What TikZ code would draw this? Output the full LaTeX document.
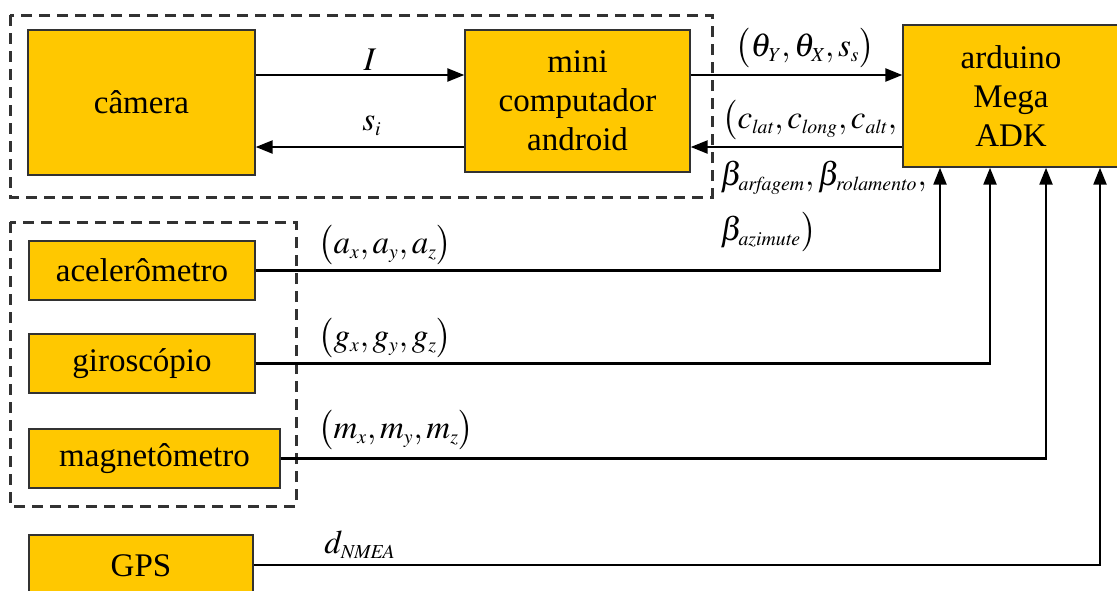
\documentclass[tikz,border=0pt]{standalone}
\usepackage{mathptmx}
\usepackage{fontspec}
\setmainfont{Liberation Serif}
\usetikzlibrary{arrows.meta,calc,positioning}
\definecolor{boxgold}{RGB}{255,200,0}
\definecolor{edgegray}{RGB}{50,50,50}
\newcommand{\lo}[1]{_{\scriptscriptstyle\mathit{#1}}}
\tikzset{
  block/.style={draw=edgegray, fill=boxgold, line width=0.7pt, inner sep=0pt, align=center},
  flow/.style={-{Triangle[length=8.5pt,width=6.5pt]}, line width=1.2pt},
  grp/.style={draw=edgegray, line width=1.5pt, dash pattern=on 5.5pt off 3.5pt},
  lbl/.style={inner sep=1pt},
}
\begin{document}
\begin{tikzpicture}[x=0.5pt, y=-0.5pt, font=\fontsize{16.5}{19.5}\selectfont]
        \useasboundingbox (0,0) rectangle (1117,590);
        % Draw background grid
        %\draw[step=50,gray,very thin] (0,0) grid (1117,590);
        % Groups (dashed)
        \draw[grp] (10,15) rectangle (712,197);
        \draw[grp] (10,222) rectangle (296,506);
        % Blocks
        \node[block, minimum width=113.5pt, minimum height=72.5pt] (cam) at (141.5,102.5) {câmera};
        \node[block, minimum width=112.5pt, minimum height=71pt] (mini) at (577.5,101) {mini\\computador\\android};
        \node[block, minimum width=108pt, minimum height=71pt] (ard) at (1011,96) {arduino\\Mega\\ADK};
        \node[block, minimum width=113pt, minimum height=29.5pt] (acel) at (142,270.5) {acelerômetro};
        \node[block, minimum width=113pt, minimum height=29.5pt] (giro) at (142,363.5) {giroscópio};
        \node[block, minimum width=125.5pt, minimum height=29.5pt] (mag) at (154.5,458.5) {magnetômetro};
        \node[block, minimum width=112pt, minimum height=31pt] (gps) at (141,566) {GPS};
        % Camera <-> mini computador
        \draw[flow] (cam.east |- 0,75) -- (mini.west |- 0,75);
        \draw[flow] (mini.west |- 0,147) -- (cam.east |- 0,147);
        \node[lbl] (lI) at (370,60) {$I$};
        \node[lbl] (lsi) at (372,126) {$s\lo{i}$};
        % mini computador <-> arduino
        \draw[flow] (mini.east |- 0,75) -- (ard.west |- 0,75);
        \draw[flow] (ard.west |- 0,147) -- (mini.east |- 0,147);
        \node[lbl, anchor=west] (ltheta) at (733,48) {$\bigl(\theta\lo{Y},\theta\lo{X},s\lo{s}\bigr)$};
        \node[lbl, anchor=west] (lc) at (720,120) {$\bigl(c\lo{lat},c\lo{long},c\lo{alt},$};
        \node[lbl, anchor=west] (lbeta) at (718,178) {$\beta\lo{arfagem},\beta\lo{rolamento},$};
        \node[lbl, anchor=west] (lazi) at (718,232) {$\beta\lo{azimute}\bigr)$};
        % Sensors -> arduino
        \draw[flow] (acel.east) -| (ard.south -| 940,0);
        \draw[flow] (giro.east) -| (ard.south -| 990,0);
        \draw[flow] (mag.east) -| (ard.south -| 1046,0);
        \draw[flow] (gps.east |- 0,565) -| (ard.south -| 1100,0);
        \node[lbl, anchor=west] (la) at (316,245) {$\bigl(a\lo{x},a\lo{y},a\lo{z}\bigr)$};
        \node[lbl, anchor=west] (lg) at (316,338) {$\bigl(g\lo{x},g\lo{y},g\lo{z}\bigr)$};
        \node[lbl, anchor=west] (lm) at (316,430) {$\bigl(m\lo{x},m\lo{y},m\lo{z}\bigr)$};
        \node[lbl, anchor=west] (ld) at (322,545) {$d\lo{NMEA}$};
\end{tikzpicture}
\end{document}
